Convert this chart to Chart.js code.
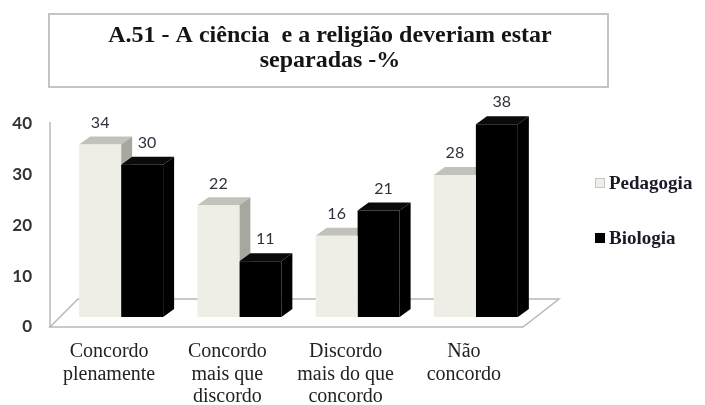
<!DOCTYPE html>
<html>
<head>
<meta charset="utf-8">
<title>A.51</title>
<script src="https://cdn.jsdelivr.net/npm/chart.js@4.4.0/dist/chart.umd.min.js"></script>
<style>
  html, body { margin: 0; padding: 0; background: #fff; }
  #wrap { width: 705px; height: 405px; }
</style>
</head>
<body>
<div id="wrap"><canvas id="chart" width="705" height="405"></canvas></div>
<script>
const categories = [
    ['Concordo', 'plenamente'],
    ['Concordo', 'mais que', 'discordo'],
    ['Discordo', 'mais do que', 'concordo'],
    ['Não', 'concordo']
];
const pedagogia = [34, 22, 16, 28];
const biologia = [30, 11, 21, 38];
const yTicks = [0, 10, 20, 30, 40];
const seriesNames = ['Pedagogia', 'Biologia'];
const titleLines = ['A.51 - A ciência  e a religião deveriam estar', 'separadas -%'];

const serif = '"Liberation Serif", "DejaVu Serif", serif';
const sans = 'Lato, "Liberation Sans", sans-serif';
const DX = 11, DY = -8; // depth of the fake 3d

// Title box
const titleBox = {
    id: 'titleBox',
    beforeDraw(chart) {
        const ctx = chart.ctx;
        ctx.save();
        ctx.strokeStyle = '#c4c4c4';
        ctx.lineWidth = 2;
        ctx.strokeRect(49, 14, 559, 73);
        ctx.fillStyle = '#141414';
        ctx.font = 'bold 24px ' + serif;
        ctx.textAlign = 'center';
        ctx.textBaseline = 'alphabetic';
        ctx.fillText(titleLines[0], 330, 42);
        ctx.fillText(titleLines[1], 330, 67);
        ctx.restore();
    }
};

// Floor, wall edge, top and side faces of bars, value labels
const bars3d = {
    id: 'bars3d',
    beforeDatasetsDraw(chart) {
        const { ctx, chartArea: a } = chart;
        const base = a.bottom;
        ctx.save();
        ctx.strokeStyle = '#b8b8b8';
        ctx.lineWidth = 1.5;
        ctx.beginPath();
        ctx.moveTo(a.left - 12, base + 10);
        ctx.lineTo(a.right - 12, base + 10);
        ctx.lineTo(a.right + 24, base - 18);
        ctx.lineTo(a.left + 16, base - 18);
        ctx.closePath();
        ctx.stroke();
        ctx.beginPath();
        ctx.moveTo(a.left - 12, a.top + 8);
        ctx.lineTo(a.left - 12, base + 10);
        ctx.stroke();

        chart.data.datasets.forEach((ds, i) => {
            chart.getDatasetMeta(i).data.forEach(bar => {
                const { x, y, width } = bar.getProps(['x', 'y', 'width'], true);
                const x0 = x - width / 2, x1 = x + width / 2;
                ctx.fillStyle = ds.topColor;
                ctx.beginPath();
                ctx.moveTo(x0, y);
                ctx.lineTo(x0 + DX, y + DY);
                ctx.lineTo(x1 + DX, y + DY);
                ctx.lineTo(x1, y);
                ctx.closePath();
                ctx.fill();
                ctx.fillStyle = ds.sideColor;
                ctx.beginPath();
                ctx.moveTo(x1, y);
                ctx.lineTo(x1 + DX, y + DY);
                ctx.lineTo(x1 + DX, base + DY);
                ctx.lineTo(x1, base);
                ctx.closePath();
                ctx.fill();
            });
        });
        ctx.restore();
    },
    afterDatasetsDraw(chart) {
        const ctx = chart.ctx;
        ctx.save();
        ctx.fillStyle = '#30303c';
        ctx.font = '16px ' + sans;
        ctx.textAlign = 'center';
        ctx.textBaseline = 'middle';
        chart.data.datasets.forEach((ds, i) => {
            chart.getDatasetMeta(i).data.forEach((bar, j) => {
                const { x, y } = bar.getProps(['x', 'y'], true);
                ctx.fillText(ds.data[j], x + (i === 1 ? 5 : 0), y - 22);
            });
        });
        ctx.restore();
    }
};

// Legend on the right
const sideLegend = {
    id: 'sideLegend',
    afterDraw(chart) {
        const ctx = chart.ctx;
        ctx.save();
        ctx.font = 'bold 19px ' + serif;
        ctx.textBaseline = 'middle';
        ctx.textAlign = 'left';
        chart.data.datasets.forEach((ds, i) => {
            const cy = 183 + i * 55;
            ctx.fillStyle = ds.backgroundColor;
            ctx.fillRect(595, cy - 5, 10, 10);
            ctx.strokeStyle = i === 0 ? '#c8c8c0' : '#000';
            ctx.lineWidth = 1;
            ctx.strokeRect(595.5, cy - 4.5, 9, 9);
            ctx.fillStyle = '#1a1a28';
            ctx.fillText(ds.label, 609, cy + 1);
        });
        ctx.restore();
    }
};

new Chart(document.getElementById('chart'), {
    type: 'bar',
    data: {
        labels: categories,
        datasets: [{
            label: seriesNames[0],
            data: pedagogia,
            backgroundColor: '#eeeee6',
            topColor: '#c2c2ba',
            sideColor: '#a7a7a0',
            borderWidth: 0
        }, {
            label: seriesNames[1],
            data: biologia,
            backgroundColor: '#000000',
            topColor: '#0a0a0a',
            sideColor: '#000000',
            borderWidth: 0
        }]
    },
    options: {
        responsive: false,
        animation: false,
        categoryPercentage: 0.71,
        barPercentage: 1.0,
        layout: {
            padding: { left: 0, right: 170, top: 114, bottom: 0 }
        },
        plugins: {
            legend: { display: false },
            title: { display: false },
            tooltip: { enabled: false }
        },
        scales: {
            x: {
                grid: { display: false, drawTicks: false },
                border: { display: false },
                afterFit: s => { s.height = 88; },
                ticks: {
                    padding: 24,
                    labelOffset: -12,
                    maxRotation: 0,
                    autoSkip: false,
                    color: '#222',
                    font: { family: serif, size: 20, lineHeight: 1.12 }
                }
            },
            y: {
                min: 0,
                max: 40,
                grid: { display: false, drawTicks: false },
                border: { display: false },
                afterFit: s => { s.width = 62; },
                afterBuildTicks: s => { s.ticks = yTicks.map(v => ({ value: v })); },
                ticks: {
                    padding: 30,
                    labelOffset: 10,
                    color: '#333',
                    font: { family: sans, size: 17, weight: 'bold' }
                }
            }
        }
    },
    plugins: [titleBox, bars3d, sideLegend]
});
</script>
</body>
</html>
